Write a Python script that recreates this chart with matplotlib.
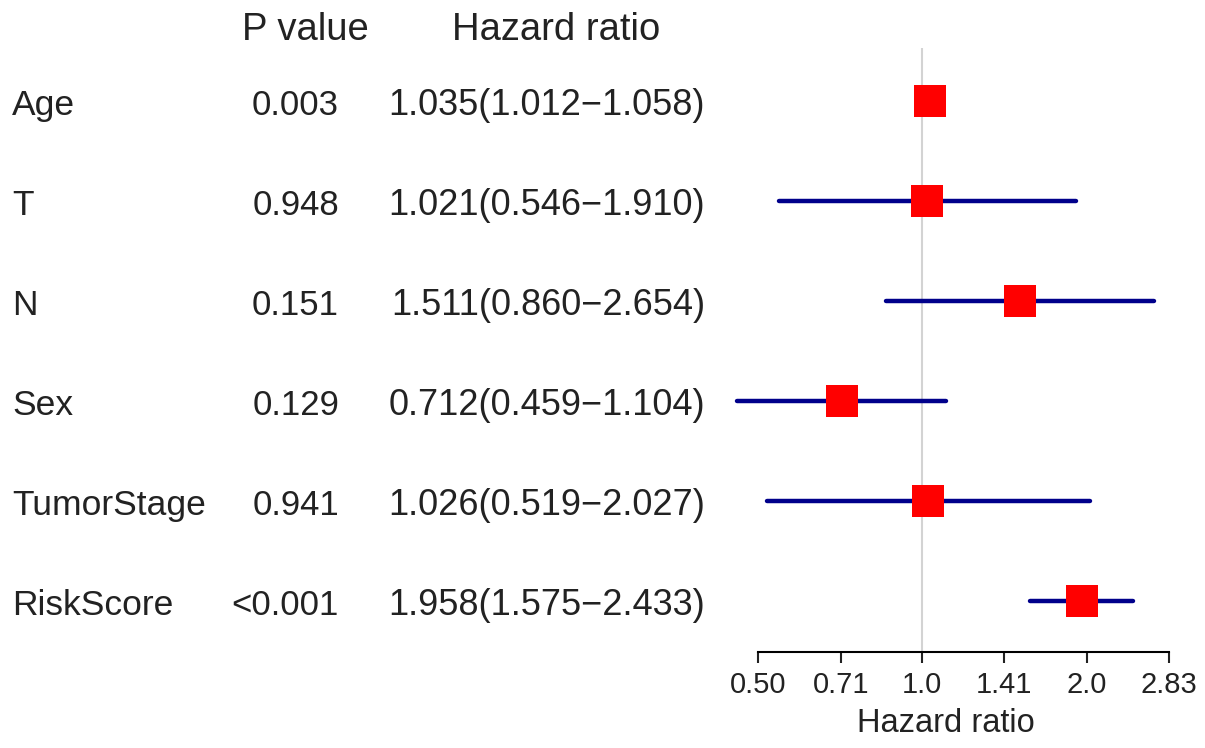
import numpy as np
import matplotlib
matplotlib.use("Agg")
import matplotlib.pyplot as plt

plt.rcParams['font.family'] = ['Liberation Sans', 'DejaVu Sans']

variables = ["Age", "T", "N", "Sex", "TumorStage", "RiskScore"]
p_values = ["0.003", "0.948", "0.151", "0.129", "0.941", "<0.001"]
hr = [1.035, 1.021, 1.511, 0.712, 1.026, 1.958]
hr_low = [1.012, 0.546, 0.860, 0.459, 0.519, 1.575]
hr_high = [1.058, 1.910, 2.654, 1.104, 2.027, 2.433]
tick_values = [0.50, 0.71, 1.0, 1.41, 2.0, 2.83]
tick_labels = ["0.50", "0.71", "1.0", "1.41", "2.0", "2.83"]

W, H = 1205, 748
fig = plt.figure(figsize=(W / 100, H / 100), dpi=100)

n = len(variables)
ypos = np.arange(n)
lhr = np.log2(hr)
llo = np.log2(hr_low)
lhi = np.log2(hr_high)

# vertical layout (pixels from top)
top_px, bot_px = 48, 652
ax_bottom = (H - bot_px) / H
ax_height = (bot_px - top_px) / H
ylim = (5.51, -0.53)

# forest axes
left_px, right_px = 725, 1195
x0_px, ppu = 922.3, 164.6
ax = fig.add_axes([left_px / W, ax_bottom, (right_px - left_px) / W, ax_height])

ax.axvline(0, color="#d3d3d3", lw=1.5, zorder=1)
ax.hlines(ypos, llo, lhi, color="#00008B", lw=3.2, capstyle="round", zorder=2)
ax.plot(lhr, ypos, linestyle="none", marker="s", markersize=23,
        color="red", markeredgewidth=0, zorder=3)

for s in ["top", "right", "left"]:
    ax.spines[s].set_visible(False)
ax.spines["bottom"].set_linewidth(1.5)
ax.spines["bottom"].set_bounds(np.log2(tick_values[0]), np.log2(tick_values[-1]))
ax.set_xticks(np.log2(tick_values))
ax.set_xticklabels(tick_labels, fontsize=21)
ax.tick_params(axis="x", length=8, width=1.5, pad=6, colors="#222222")
ax.set_yticks([])
xl0, xl1 = (left_px - x0_px) / ppu, (right_px - x0_px) / ppu
ax.set_xlim(xl0, xl1)
ax.set_ylim(*ylim)

# x label centred on the range of the intervals (R plot region)
ax.set_xlabel("Hazard ratio", fontsize=23.5, color="#222222", va="top")
center = (llo.min() + lhi.max()) / 2
ax.xaxis.set_label_coords((center - xl0) / (xl1 - xl0), -0.093)

# text axes (full width, same vertical mapping)
tax = fig.add_axes([0, ax_bottom, 1, ax_height])
tax.set_xlim(0, W)
tax.set_ylim(*ylim)
tax.axis("off")

tc = "#222222"
off = 0.14
for i in range(n):
    tax.text(12, ypos[i] + off, variables[i], fontsize=25.5, ha="left", va="baseline", color=tc, clip_on=False)
    tax.text(339, ypos[i] + off, p_values[i], fontsize=25, ha="right", va="baseline", color=tc, clip_on=False)
    label = "%.3f(%.3f\u2212%.3f)" % (hr[i], hr_low[i], hr_high[i])
    tax.text(705, ypos[i] + off, label, fontsize=26, ha="right", va="baseline", color=tc, clip_on=False)

tax.text(305, -0.61, "P value", fontsize=27.5, ha="center", va="baseline", color=tc, clip_on=False)
tax.text(556, -0.61, "Hazard ratio", fontsize=27.5, ha="center", va="baseline", color=tc, clip_on=False)

fig.savefig("out.png", dpi=100)
